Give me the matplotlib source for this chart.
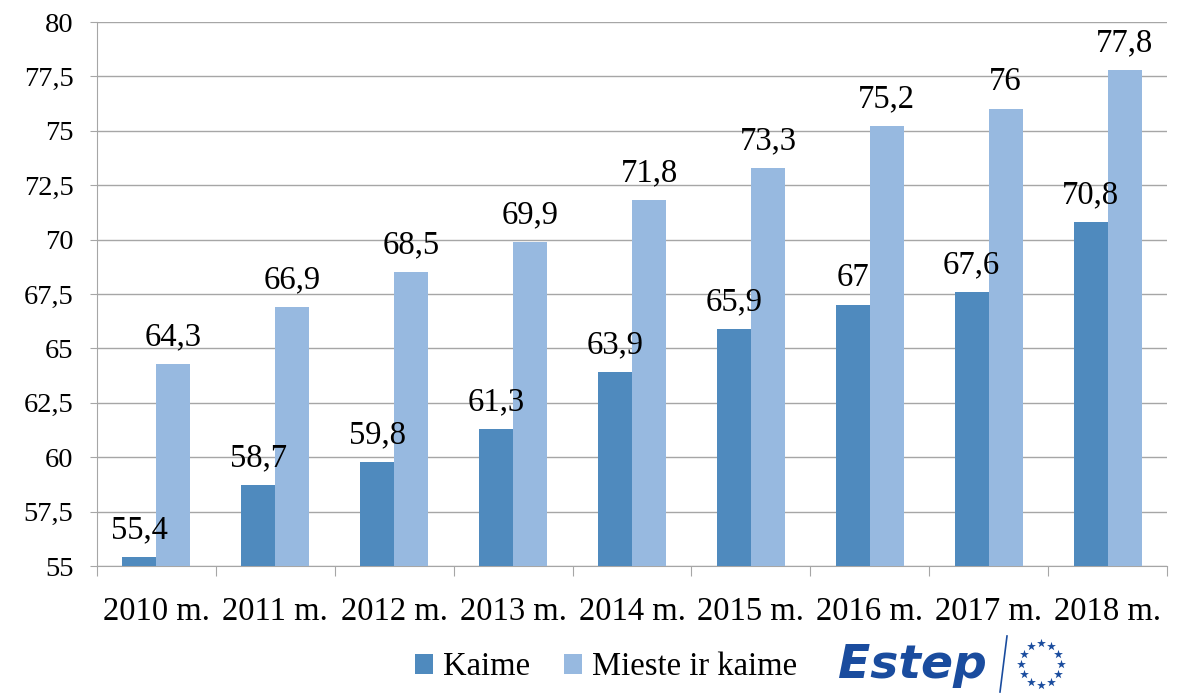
import numpy as np
import matplotlib.pyplot as plt

years = ["2010 m.", "2011 m.", "2012 m.", "2013 m.", "2014 m.",
         "2015 m.", "2016 m.", "2017 m.", "2018 m."]
kaime = [55.4, 58.7, 59.8, 61.3, 63.9, 65.9, 67.0, 67.6, 70.8]
mieste_ir_kaime = [64.3, 66.9, 68.5, 69.9, 71.8, 73.3, 75.2, 76.0, 77.8]

DARK = "#4F8ABE"
LIGHT = "#97B9E0"
GRID = "#A6A6A6"
LOGO = "#1A4C9E"


def fmt(v):
    s = f"{v:g}"
    return s.replace(".", ",")


plt.rcParams["font.family"] = ["Liberation Serif", "DejaVu Serif"]

fig = plt.figure(figsize=(11.81, 6.93), dpi=100)
ax = fig.add_axes([97 / 1181, 1 - 566 / 693, (1167 - 97) / 1181, (566 - 22) / 693])

x = np.arange(len(years))
w = 0.286
b1 = ax.bar(x - w / 2, np.array(kaime) - 55, w, bottom=55, color=DARK, label="Kaime", zorder=3)
b2 = ax.bar(x + w / 2, np.array(mieste_ir_kaime) - 55, w, bottom=55, color=LIGHT,
            label="Mieste ir kaime", zorder=3)

for xi, v in zip(x, kaime):
    ax.annotate(fmt(v), (xi - w / 2, v), xytext=(0, 13.5), textcoords="offset points",
                ha="center", va="baseline", fontsize=23.5, zorder=4)
for xi, v in zip(x, mieste_ir_kaime):
    ax.annotate(fmt(v), (xi + w / 2, v), xytext=(0, 13.5), textcoords="offset points",
                ha="center", va="baseline", fontsize=23.5, zorder=4)

ax.set_ylim(55, 80)
ax.set_xlim(-0.5, len(years) - 0.5)
yt = np.arange(55, 80.01, 2.5)
ax.set_yticks(yt)
ax.set_yticklabels([fmt(v) for v in yt], fontsize=20.5)
ax.yaxis.grid(True, color=GRID, lw=1, zorder=0)
ax.tick_params(axis="y", length=5, color=GRID, pad=12)

# category boundaries as x tick marks, labels centred in between
ax.set_xticks(np.arange(-0.5, len(years), 1.0))
ax.set_xticklabels([])
ax.set_xticks(x, minor=True)
ax.set_xticklabels(years, minor=True, fontsize=23.5)
ax.tick_params(axis="x", which="major", length=7, color=GRID)
ax.tick_params(axis="x", which="minor", length=0, pad=22)

for s in ["top", "right"]:
    ax.spines[s].set_visible(False)
for s in ["left", "bottom"]:
    ax.spines[s].set_color(GRID)

fig.legend(handles=[b1, b2], loc="center", bbox_to_anchor=(606 / 1181, 1 - 667 / 693),
           ncol=2, frameon=False, fontsize=23.5, handlelength=0.55, handleheight=0.55,
           handletextpad=0.3, columnspacing=1.05, borderpad=0)

# Estep logo
fig.text(838 / 1181, 1 - 666 / 693, "Estep", color=LOGO, fontsize=34, fontweight="bold",
         fontstyle="italic", family="DejaVu Sans", ha="left", va="center")
fig.add_artist(plt.Line2D([1007 / 1181, 1000 / 1181], [1 - 636 / 693, 1 - 692 / 693],
                          color=LOGO, lw=1.2))
sax = fig.add_axes([1013 / 1181, 1 - 690 / 693, 56 / 1181, 52 / 693])
ang = np.linspace(0, 2 * np.pi, 13)[:-1]
sax.scatter(np.cos(ang), np.sin(ang), marker="*", s=45, color=LOGO, lw=0)
sax.set_xlim(-1.4, 1.4)
sax.set_ylim(-1.25, 1.25)
sax.axis("off")

fig.savefig("out.png", dpi=100)
